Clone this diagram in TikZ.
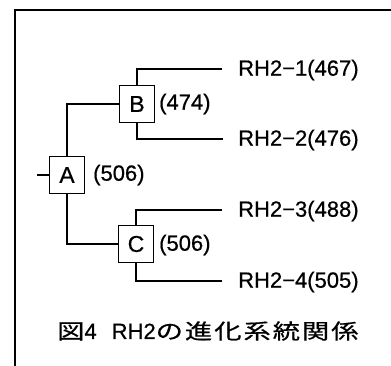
\documentclass[tikz,border=0pt]{standalone}
\usepackage{fontspec}
\setmainfont{Liberation Sans}[FakeBold=0.6]
\newfontfamily\cjk{Noto Sans CJK JP}[FakeBold=0.6]
\usepackage{graphicx}
\begin{document}
\begin{tikzpicture}[x=1pt,y=-1pt,
  tree/.style={line width=1.6pt},
  frame/.style={line width=2pt},
  sbox/.style={draw,line width=1.5pt,minimum width=35pt,minimum height=37pt,inner sep=0pt,font=\fontsize{23}{23}\selectfont},
  lab/.style={anchor=west,inner sep=0pt,font=\fontsize{22}{22}\selectfont}]
\useasboundingbox (0,0) rectangle (391,366);
% frame
\coordinate (fl) at (15,366);
\coordinate (fc) at (15,10);
\coordinate (fr) at (391,10);
\draw[frame] (fl) -- (fc) -- (fr);
% inner nodes
\node[sbox] (A) at (67,175) {A};
\node[sbox] (B) at (137,104) {B};
\node[sbox] (C) at (136,244) {C};
\node[lab] (la) at (93,175) {(506)};
\node[lab] (lb) at (159,104) {(474)};
\node[lab] (lc) at (159,245) {(506)};
% leaf ends
\coordinate (e1) at (222,69);
\coordinate (e2) at (223,139);
\coordinate (e3) at (222,210);
\coordinate (e4) at (222,281);
\node[lab] (t1) at (238,70) {RH2−1(467)};
\node[lab] (t2) at (238,140) {RH2−2(476)};
\node[lab] (t3) at (238,211) {RH2−3(488)};
\node[lab] (t4) at (238,282) {RH2−4(505)};
% root stub
\coordinate (r) at (37,175);
\draw[tree] (r) -- (A.west);
\draw[tree] (A.north) |- (B.west);
\draw[tree] (A.south) |- (C.west);
\draw[tree] (B.north) |- (e1);
\draw[tree] (B.south) |- (e2);
\draw[tree] (C.north) |- (e3);
\draw[tree] (C.south) |- (e4);
% caption
\node[lab] (cap) at (57,331) {{\cjk\fontsize{21}{21}\selectfont\scalebox{1.3}[1]{図}}4\hspace{15pt}RH2{\cjk\fontsize{21}{21}\selectfont\scalebox{1.3}[1]{の\hspace{1.5pt}進\hspace{1.5pt}化\hspace{1.5pt}系\hspace{1.5pt}統\hspace{1.5pt}関\hspace{1.5pt}係}}};
\end{tikzpicture}
\end{document}
